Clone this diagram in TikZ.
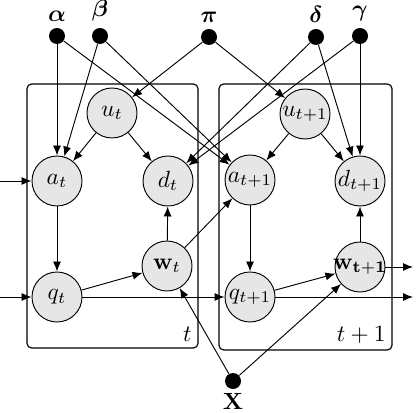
\documentclass[tikz,border=0pt]{standalone}
\usepackage{amsmath}
\usepackage{amsbsy}
\usepackage{xcolor}
\usepackage{tikz}
\usetikzlibrary{arrows.meta}
\definecolor{nodeGrey}{HTML}{E6E6E6}
\tikzset{
  latentnode/.style={circle, draw=black, fill=nodeGrey, line width=0.4pt, minimum size=0.75cm, inner sep=0pt},
  hypernode/.style={circle, fill=black, minimum size=0.24cm, inner sep=0pt},
  hyperlabel/.style={inner sep=0.5pt, label distance=2pt},
  platebox/.style={rectangle, draw=black, line width=0.5pt, rounded corners=2pt},
  platelabel/.style={anchor=south east, inner sep=2.5pt},
  deparrow/.style={-{Latex[length=1.5mm,width=1.2mm]}, line width=0.4pt, draw=black},
}
\begin{document}
\begin{tikzpicture}[x=0.015cm,y=-0.015cm]
  \useasboundingbox (0,0) rectangle (416,412);
  % plates
  \draw[platebox] (27,84) rectangle (198,348);
  \node[platelabel] at (198,348) {$t$};
  \draw[platebox] (219,84) rectangle (392,350);
  \node[platelabel] at (392,350) {$t+1$};

  % hyperparameters
  \node[hypernode, label={[hyperlabel]above:$\boldsymbol{\alpha}$}] (alpha) at (57,36) {};
  \node[hypernode, label={[hyperlabel]above:$\boldsymbol{\beta}$}] (beta) at (100,36) {};
  \node[hypernode, label={[hyperlabel]above:$\boldsymbol{\pi}$}] (ppi) at (209,37) {};
  \node[hypernode, label={[hyperlabel]above:$\boldsymbol{\delta}$}] (delta) at (316,37) {};
  \node[hypernode, label={[hyperlabel]above:$\boldsymbol{\gamma}$}] (gamma) at (360,36) {};
  \node[hypernode, label={[hyperlabel, label distance=0.8pt]below:$\mathbf{X}$}] (xx) at (233,381) {};

  % slice t
  \node[latentnode] (ut) at (112,113) {$u_t$};
  \node[latentnode] (at) at (57,181) {$a_t$};
  \node[latentnode] (dt) at (168,181) {$d_t$};
  \node[latentnode] (wt) at (167,266) {$\mathbf{w}_t$};
  \node[latentnode] (qt) at (57,297) {$q_t$};

  % slice t+1
  \node[latentnode] (un) at (305,114) {$u_{t+1}$};
  \node[latentnode] (an) at (250,180) {$a_{t+1}$};
  \node[latentnode] (dn) at (360,181) {$d_{t+1}$};
  \node[latentnode] (wn) at (360,267) {\makebox[0pt]{$\mathbf{w_{t+1}}$}};
  \node[latentnode] (qn) at (250,297) {$q_{t+1}$};

  % free ends
  \coordinate (ina) at (0,181);
  \coordinate (inq) at (0,297);
  \coordinate (outw) at (413,267);
  \coordinate (outq) at (413,297);

  \foreach \a/\b in {alpha/at, alpha/an, beta/at, beta/an, ppi/ut, ppi/un, delta/dt, delta/dn, gamma/dt, gamma/dn,
    ut/at, ut/dt, un/an, un/dn, at/qt, an/qn, qt/wt, qn/wn, wt/dt, wn/dn, qt/qn, wt/an, xx/wt, xx/wn,
    ina/at, inq/qt, wn/outw, qn/outq} { \draw[deparrow] (\a) -- (\b); }
\end{tikzpicture}
\end{document}
